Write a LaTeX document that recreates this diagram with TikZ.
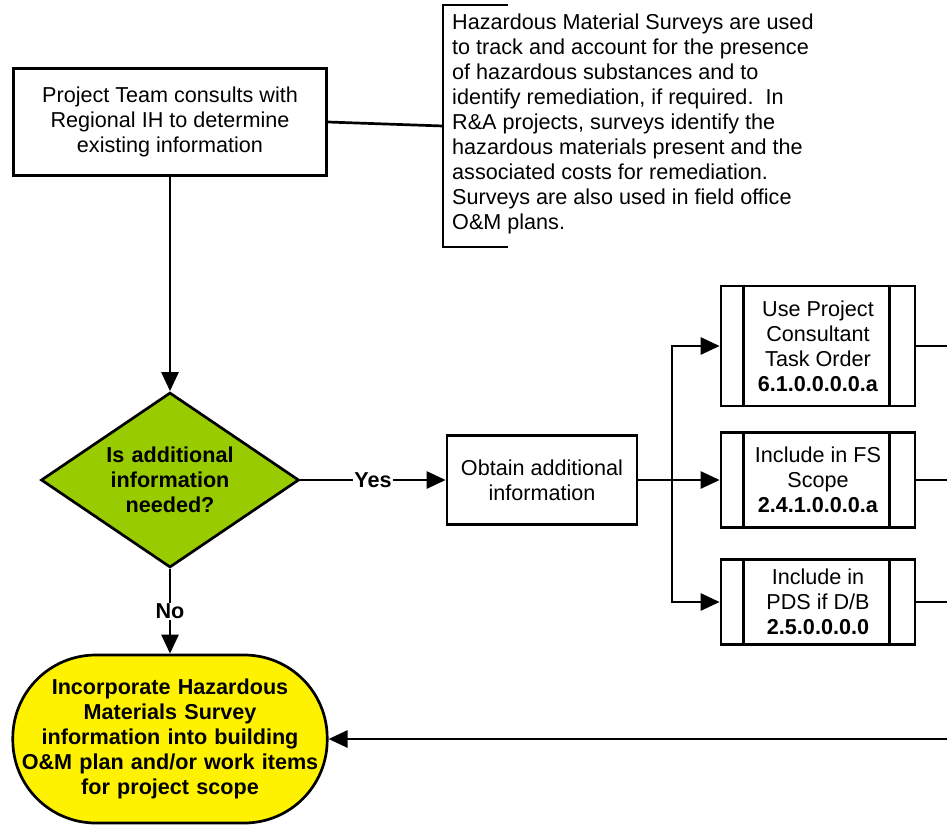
\documentclass[tikz,border=0pt]{standalone}
\usepackage{fontspec}
\setmainfont{Liberation Sans}
\usetikzlibrary{shapes.geometric,arrows.meta}

\definecolor{diamgreen}{HTML}{99CC00}
\def \lineW {2.7pt}

\tikzset{
  flow/.style={line width=\lineW, draw=black},
  arr/.style={flow, -{Triangle[length=19pt,width=17pt]}},
  procbox/.style={flow, rectangle, align=center, inner sep=0pt},
  subproc/.style={procbox, minimum width=194pt},
  decision/.style={flow, diamond, fill=diamgreen, aspect=1.47, minimum width=258pt,
    minimum height=175pt, inner sep=0pt, text width=136pt, align=center, font=\bfseries},
  terminal/.style={flow, rectangle, rounded corners=83pt, fill=yellow, minimum width=312pt,
    minimum height=168pt, text width=300pt, align=center, font=\bfseries},
  lbl/.style={fill=white, inner sep=1pt, font=\bfseries},
}

\begin{document}
\fontsize{21.6}{25}\selectfont
\begin{tikzpicture}[x=1pt,y=-1pt]
   \useasboundingbox (0,0) rectangle (947,825);

   % start and note
   \node[procbox, minimum width=313pt, minimum height=107pt] (team) at (170,122)
      {Project Team consults with\\Regional IH to determine\\existing information};
   \node[anchor=north west, align=left, inner sep=0pt] (note) at (452,14)
      {Hazardous Material Surveys are used\\to track and account for the presence\\of hazardous substances and to\\identify remediation, if required.\ \ In\\R\&A projects, surveys identify the\\hazardous materials present and the\\associated costs for remediation.\\Surveys are also used in field office\\O\&M plans.};
   \coordinate (brkTop) at (443,5);
   \coordinate (brkBot) at (443,247);
   \coordinate (brk) at (443,126);
   \draw[flow] ([xshift=65pt]brkTop) -- (brkTop) -- (brkBot) -- ([xshift=65pt]brkBot);
   \draw[flow] (team.east) -- (brk);

   % decision
   \node[decision] (q) at (170,480) {Is additional\\information\\needed?};
   \draw[arr] (team) -- (q);

   \node[procbox, minimum width=190pt, minimum height=89pt] (obtain) at (542,480)
      {Obtain additional\\information};
   \draw[arr] (q) -- node[lbl] {Yes} (obtain);

   % sub-processes
   \node[subproc, minimum height=120pt] (uct) at (818,346)
      {Use Project\\Consultant\\Task Order\\\textbf{6.1.0.0.0.0.a}};
   \node[subproc, minimum height=95pt] (fs) at (818,480)
      {Include in FS\\Scope\\\textbf{2.4.1.0.0.0.a}};
   \node[subproc, minimum height=85pt] (pds) at (818,602)
      {Include in\\PDS if D/B\\\textbf{2.5.0.0.0.0}};
   \foreach \b in {uct,fs,pds} {
      \draw[flow] ([xshift=24pt]\b.north west) -- ([xshift=24pt]\b.south west);
      \draw[flow] ([xshift=-27pt]\b.north east) -- ([xshift=-27pt]\b.south east);
   }

   \coordinate (split) at (672,480);
   \draw[flow] (obtain) -- (split);
   \draw[arr] (split) -- (fs);
   \draw[arr] (split) |- (uct);
   \draw[arr] (split) |- (pds);

   \coordinate (uctOut) at (947,346);
   \coordinate (fsOut) at (947,480);
   \coordinate (pdsOut) at (947,602);
   \coordinate (backIn) at (947,739);
   \draw[flow] (uct) -- (uctOut);
   \draw[flow] (fs) -- (fsOut);
   \draw[flow] (pds) -- (pdsOut);

   % end
   \node[terminal] (final) at (170,739)
      {Incorporate Hazardous\\Materials Survey\\information into building\\O\&M plan and/or work items\\for project scope};
   \draw[arr] (q) -- node[lbl] {No} (final);
   \draw[arr] (backIn) -- (final);
\end{tikzpicture}
\end{document}
